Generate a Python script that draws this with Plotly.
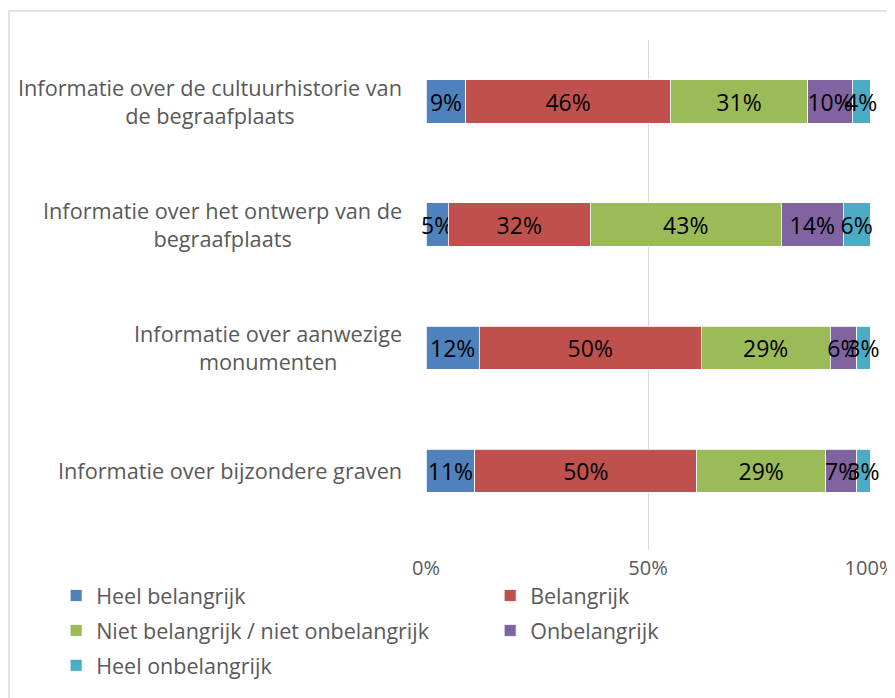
import plotly.graph_objects as go

categories = [
    "Informatie over de cultuurhistorie van<br>de begraafplaats",
    "Informatie over het ontwerp van de<br>begraafplaats",
    "Informatie over aanwezige<br>monumenten",
    "Informatie over bijzondere graven",
]
series_names = [
    "Heel belangrijk",
    "Belangrijk",
    "Niet belangrijk / niet onbelangrijk",
    "Onbelangrijk",
    "Heel onbelangrijk",
]
heel_belangrijk = [9, 5, 12, 11]
belangrijk = [46, 32, 50, 50]
neutraal = [31, 43, 29, 29]
onbelangrijk = [10, 14, 6, 7]
heel_onbelangrijk = [4, 6, 3, 3]
x_ticks = [0, 50, 100]

series_values = [heel_belangrijk, belangrijk, neutraal, onbelangrijk, heel_onbelangrijk]
colors = ["#4F81BD", "#C0504D", "#9BBB59", "#8064A2", "#4BACC6"]
# the original legend has two columns: left column -> legend, right -> legend2
legend_refs = ["legend", "legend2", "legend", "legend2", "legend"]

FONT = "Open Sans"
GREY = "#595959"

fig = go.Figure()
for name, vals, col, leg in zip(series_names, series_values, colors, legend_refs):
    fig.add_trace(go.Bar(
        y=list(range(len(categories))),
        x=vals,
        name=name,
        legendgroup=name,
        orientation="h",
        marker=dict(color=col, line=dict(color="white", width=0.8)),
        text=[f"{v}%" for v in vals],
        textposition="inside",
        insidetextanchor="middle",
        constraintext="none",
        textangle=0,
        cliponaxis=False,
        textfont=dict(family=FONT, size=23, color="black"),
        width=0.35,
        legend=leg,
        hoverinfo="skip",
    ))

# category labels, centred lines in a right-aligned block like the original
for i, cat in enumerate(categories):
    fig.add_annotation(
        x=0, xref="paper", xanchor="right", xshift=-22,
        y=i, yref="y", yanchor="middle",
        text=cat, showarrow=False, align="center",
        font=dict(family=FONT, size=21.7, color=GREY),
    )

legend_style = dict(
    orientation="v", yanchor="top", y=-0.049,
    traceorder="grouped", tracegroupgap=4,
    font=dict(family=FONT, size=21.5, color=GREY),
    bgcolor="rgba(0,0,0,0)", itemclick=False, itemdoubleclick=False,
)

# page body adds an 8px margin, so the figure is 8px smaller than the window
fig.update_layout(
    width=887, height=690,
    barmode="stack",
    margin=dict(l=418, r=25, t=32, b=148, autoexpand=False),
    paper_bgcolor="white", plot_bgcolor="white",
    showlegend=True,
    legend=dict(legend_style, xanchor="left", x=-0.833),
    legend2=dict(legend_style, xanchor="left", x=0.1445),
    xaxis=dict(
        range=[0, 100], tickvals=x_ticks, ticktext=[f"{t}%" for t in x_ticks],
        showgrid=True, gridcolor="#D9D9D9", gridwidth=1,
        zeroline=False, showline=False, ticks="",
        ticklabeloverflow="allow", ticklabelstandoff=4,
        tickfont=dict(family=FONT, size=20, color=GREY),
    ),
    yaxis=dict(
        range=[3.646, -0.5], showticklabels=False, showgrid=False,
        zeroline=False, showline=False, ticks="",
    ),
    shapes=[dict(
        type="rect", xref="paper", yref="paper",
        x0=-0.939, x1=1.2, y0=-0.4, y1=1.057,
        line=dict(color="#D9D9D9", width=1.5), layer="below",
    )],
)

fig.write_html("out.html")
